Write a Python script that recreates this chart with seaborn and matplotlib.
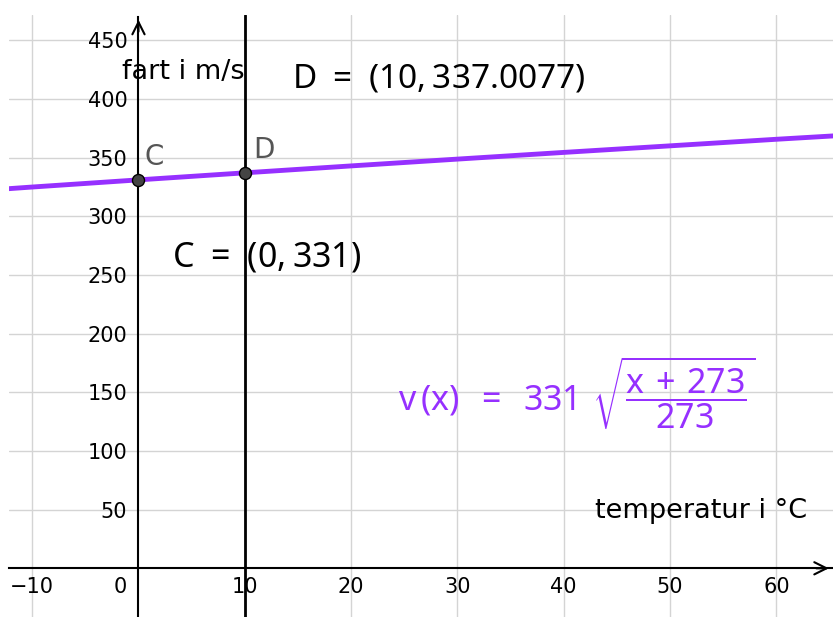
import numpy as np
import pandas as pd
import seaborn as sns
from matplotlib import pyplot as plt

# values
temp_c = [-13, -10, 0, 10, 20, 30, 40, 50, 60, 66]
speed = [323.0, 324.9, 331.0, 337.0, 342.9, 348.7, 354.4, 360.0, 365.6, 368.8]
point_names = ['C', 'D']
point_x = [0, 10]
point_y = [331, 337.0077]
x_ticks = [-10, 10, 20, 30, 40, 50, 60]
y_ticks = [50, 100, 150, 200, 250, 300, 350, 400, 450]

sns.set_theme(style='white')
plt.rcParams['font.family'] = ['DejaVu Sans']
plt.rcParams['text.color'] = 'black'
plt.rcParams['mathtext.fontset'] = 'custom'
plt.rcParams['mathtext.rm'] = 'Noto Sans'
plt.rcParams['mathtext.it'] = 'Noto Sans'
plt.rcParams['mathtext.sf'] = 'Noto Sans'

purple = '#9630ff'

fig = plt.figure(figsize=(8.33, 6.17), dpi=100)
ax = fig.add_axes([9 / 833, 0, 824 / 833, 602 / 617])
ax.set_xlim(-12.18, 65.33)
ax.set_ylim(-41.5, 471.5)

# grid + axes through the origin
ax.grid(True, color='#d4d4d4', linewidth=1)
ax.set_xticks(x_ticks)
ax.set_xticklabels([str(t).replace('-', '\u2212') for t in x_ticks])
ax.set_yticks(y_ticks)
for side in ['top', 'right']:
    ax.spines[side].set_visible(False)
ax.spines['left'].set_position(('data', 0))
ax.spines['bottom'].set_position(('data', 0))
ax.spines['left'].set_bounds(-41.5, 469.8)
ax.spines['bottom'].set_bounds(-12.18, 65.2)
for side in ['left', 'bottom']:
    ax.spines[side].set_color('black')
    ax.spines[side].set_linewidth(1.5)
ax.tick_params(length=0, labelsize=15, colors='black')
ax.tick_params(axis='x', pad=6)
ax.tick_params(axis='y', pad=8)
ax.text(-1.08, -16, '0', ha='right', va='center', fontsize=15, color='black')

# arrow heads
ax.annotate('', xy=(65.2, 0), xytext=(63.5, 0), annotation_clip=False,
            arrowprops=dict(arrowstyle='->', lw=1.5, color='black', mutation_scale=22))
ax.annotate('', xy=(0, 469.8), xytext=(0, 455), annotation_clip=False,
            arrowprops=dict(arrowstyle='->', lw=1.5, color='black', mutation_scale=22))

# vertical line x = 10
ax.axvline(10, color='black', linewidth=2)

# v(x) curve
sns.lineplot(x=temp_c, y=speed, color=purple, linewidth=3.5, ax=ax)

# points C and D
sns.scatterplot(x=point_x, y=point_y, color='#444444', edgecolor='black', linewidth=1,
                s=75, ax=ax, zorder=5)
ax.text(0.6, 350.6, point_names[0], ha='left', va='center', fontsize=20, color='#555555')
ax.text(10.8, 356.5, point_names[1], ha='left', va='center', fontsize=20, color='#555555')

# labels
ax.text(-1.55, 423, 'fart i m/s', ha='left', va='center', fontsize=19.5, color='black')
ax.text(42.9, 48.8, 'temperatur i \u00b0C', ha='left', va='center', fontsize=19.5, color='black')

ax.text(14.44, 418, r'$\mathrm{D\ =\ (10, 337.0077)}$', ha='left', va='center', fontsize=24)
ax.text(3.15, 265.3, r'$\mathrm{C\ =\ (0, 331)}$', ha='left', va='center', fontsize=24.5)
ax.text(24.4, 149.4,
        r'$\mathrm{v\,(x)\ \,=\ \,331}\ \sqrt{\dfrac{\mathrm{x\,+\,273}}{\mathrm{273}}}$',
        ha='left', va='center', fontsize=24.5, color=purple)

fig.savefig('out.png', dpi=100)
